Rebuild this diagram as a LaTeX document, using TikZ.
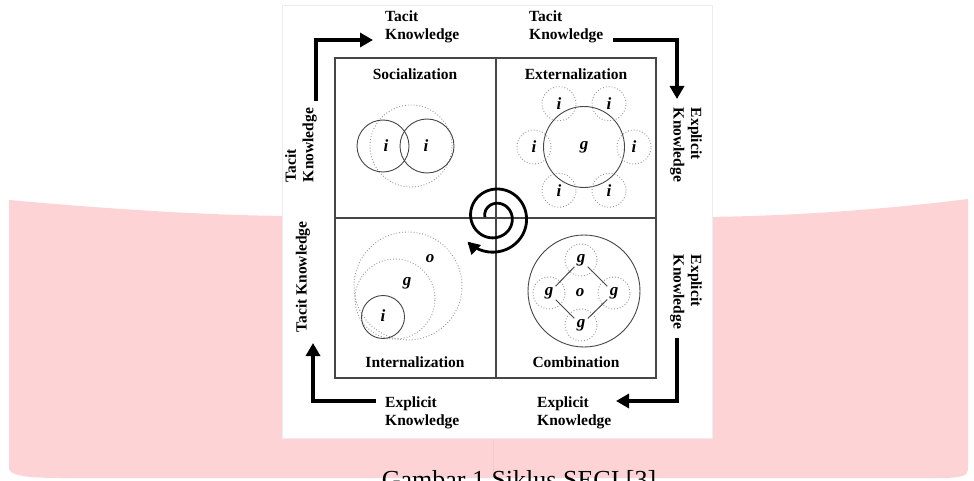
\documentclass[tikz,border=0pt]{standalone}
\usepackage{fontspec}
\setmainfont{Liberation Serif}
\usetikzlibrary{arrows.meta,calc}
\definecolor{pinkbg}{RGB}{253,211,213}
\definecolor{linegray}{RGB}{70,70,70}
\definecolor{dotgray}{RGB}{150,150,150}
\begin{document}
\begin{tikzpicture}[x=1pt,y=-1pt,
  lbl/.style={font=\fontsize{15.5}{17.5}\selectfont\bfseries, align=left, inner sep=0pt},
  qtitle/.style={font=\fontsize{15.5}{17.5}\selectfont\bfseries, inner sep=0pt},
  letter/.style={font=\fontsize{17}{17}\selectfont\bfseries\itshape, inner sep=0pt},
  solidc/.style={draw=linegray, line width=0.9pt},
  dotc/.style={draw=dotgray, line width=0.9pt, dotted},
  bigarrow/.style={line width=3.5pt, -{Triangle[length=13pt,width=14pt]}},
  ]
\useasboundingbox (0,0) rectangle (974,481);
% pink band
\fill[pinkbg] (9,200) .. controls (120,210) and (220,216) .. (300,216) -- (690,217)
  .. controls (780,217) and (880,210) .. (968,199) -- (968,470)
  .. controls (968,476) and (960,478) .. (940,478) -- (60,478)
  .. controls (20,478) and (9,474) .. (9,468) -- cycle;
\draw[pinkbg!90!gray, line width=0.5pt] (493,438) -- (493,472);
% white panel
\filldraw[fill=white, draw=gray!15, line width=0.8pt] (282,5) rectangle (712,438);
% caption (partly cut by the page edge, as in the reference)
\node[font=\fontsize{26}{26}\selectfont, anchor=base, inner sep=0pt] (cap) at (519,488) {Gambar 1 Siklus SECI [3]};

% quadrant box
\draw[draw=linegray, line width=1.2pt] (335,58) rectangle (656,378);
\draw[draw=linegray, line width=1.2pt] (496,58) -- (496,378);
\draw[draw=linegray, line width=1.2pt] (335,218) -- (656,218);

% titles
\node[qtitle] (tsoc) at (415,74) {Socialization};
\node[qtitle] (text) at (576,74) {Externalization};
\node[qtitle] (tint) at (415,362) {Internalization};
\node[qtitle] (tcom) at (576,362) {Combination};

% outer labels
\node[lbl, anchor=west] (tk1) at (385,27) {Tacit\\Knowledge};
\node[lbl, anchor=west] (tk2) at (529,27) {Tacit\\Knowledge};
\node[lbl, rotate=-90] (ek1) at (686,145) {Explicit\\Knowledge};
\node[lbl, rotate=-90] (ek2) at (686,292) {Explicit\\Knowledge};
\node[lbl, anchor=west] (ek3) at (537,413) {Explicit\\Knowledge};
\node[lbl, anchor=west] (ek4) at (385,413) {Explicit\\Knowledge};
\node[lbl, rotate=90] (tk3) at (303,277) {Tacit Knowledge};
\node[lbl, rotate=90] (tk4) at (301,145) {Tacit\\Knowledge};

% arrows
\coordinate (a1s) at (316,101);
\coordinate (a1e) at (373,40);
\draw[bigarrow] (a1s) |- (a1e);
\coordinate (a2s) at (613,40);
\coordinate (a2e) at (677,99);
\draw[bigarrow] (a2s) -| (a2e);
\coordinate (a3s) at (677,338);
\coordinate (a3e) at (616,401);
\draw[bigarrow] (a3s) |- (a3e);
\coordinate (a4s) at (376,401);
\coordinate (a4e) at (313,343);
\draw[bigarrow] (a4s) -| (a4e);

% Socialization
\draw[dotc] (411,146) circle[radius=41pt];
\node[solidc, circle, minimum size=52pt] (si1) at (383,146) {};
\node[solidc, circle, minimum size=54pt] (si2) at (427,146) {};
\node[letter] (sl1) at (386,146) {i};
\node[letter] (sl2) at (426,146) {i};

% Externalization
\node[solidc, circle, minimum size=81pt, letter] (eg) at (584,147) {g};
\foreach \ang/\nm in {0/e1,60/e2,120/e3,180/e4,240/e5,300/e6}{
  \node[dotc, circle, minimum size=34pt, letter] (\nm) at ($(584,147)+(\ang:50pt)$) {i};
}

% Internalization
\draw[dotc] (408,286) circle[radius=54pt];
\draw[dotc] (395,299) circle[radius=40pt];
\node[solidc, circle, minimum size=43pt] (ii) at (383,317) {};
\node[letter] (il) at (383,316) {i};
\node[letter] (ig) at (407,283) {g};
\node[letter] (io) at (430,259) {o};

% Combination
\draw[solidc] (584,291) circle[radius=56pt];
\node[letter] (co) at (580,293) {o};
\node[dotc, circle, minimum size=32pt, letter] (cg1) at (581,260) {g};
\node[dotc, circle, minimum size=32pt, letter] (cg2) at (549,293) {g};
\node[dotc, circle, minimum size=32pt, letter] (cg3) at (614,293) {g};
\node[dotc, circle, minimum size=32pt, letter] (cg4) at (581,325) {g};
\draw[linegray, line width=1pt, shorten <=-7pt, shorten >=-7pt] (cg1) -- (cg2);
\draw[linegray, line width=1pt, shorten <=-7pt, shorten >=-7pt] (cg1) -- (cg3);
\draw[linegray, line width=1pt, shorten <=-7pt, shorten >=-7pt] (cg4) -- (cg2);
\draw[linegray, line width=1pt, shorten <=-7pt, shorten >=-7pt] (cg4) -- (cg3);

% spiral
\draw[line width=2.8pt, -{Triangle[length=12pt,width=13pt]}] plot[domain=180:858, samples=220, smooth]
  ({495+(10+0.0398*(\x-180))*cos(\x)}, {217+(10+0.0398*(\x-180))*sin(\x)});
\end{tikzpicture}
\end{document}
